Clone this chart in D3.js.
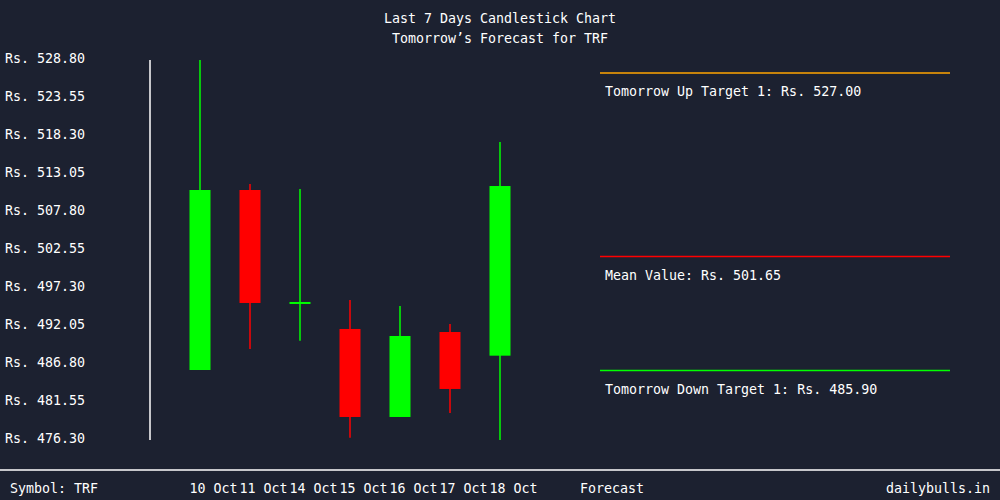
<!DOCTYPE html>
<html><head><meta charset="utf-8">
<script src="https://cdn.jsdelivr.net/npm/d3@7"></script>
<style>
html,body{margin:0;padding:0;background:#1c2130;}
svg{display:block;}
text{font-family:"DejaVu Sans Mono",monospace;fill:#ffffff;}
</style></head>
<body>
<svg id="c" width="1000" height="500"></svg>
<script>
const dates = ["10 Oct","11 Oct","14 Oct","15 Oct","16 Oct","17 Oct","18 Oct"];
const opens  = [485.97, 510.84, 495.30, 491.64, 479.48, 491.22, 487.95];
const closes = [510.84, 495.23, 495.37, 479.48, 490.67, 483.35, 511.39];
const highs  = [528.80, 511.67, 510.98, 495.64, 494.81, 492.33, 517.47];
const lows   = [485.97, 488.87, 490.00, 476.60, 479.48, 480.03, 476.30];
const yTicks = [528.80, 523.55, 518.30, 513.05, 507.80, 502.55, 497.30, 492.05, 486.80, 481.55, 476.30];
const targetLabels = ["Tomorrow Up Target 1", "Mean Value", "Tomorrow Down Target 1"];
const targetValues = [527.00, 501.65, 485.90];
const targetColors = ["#ffa500", "#ff0000", "#00ff00"];

const FS = 13.3;
const svg = d3.select("#c");
const W = 1000, H = 500;
svg.append("rect").attr("width",W).attr("height",H).attr("fill","#1c2130");

const y = d3.scaleLinear().domain([476.30, 528.80]).range([440, 60]);
const x = d3.scaleBand().domain(dates).range([175, 525]).paddingInner(0.58).paddingOuter(0.29);

// title
svg.append("text").attr("x",500).attr("y",23).attr("text-anchor","middle").attr("font-size",FS).text("Last 7 Days Candlestick Chart");
svg.append("text").attr("x",500).attr("y",43).attr("text-anchor","middle").attr("font-size",FS).text("Tomorrow\u2019s Forecast for TRF");

// y axis
const yAxis = d3.axisLeft(y).tickValues(yTicks).tickSize(0).tickPadding(0)
  .tickFormat(d => "Rs. " + d.toFixed(2));
const ga = svg.append("g").attr("transform","translate(150,0)").call(yAxis);
ga.select(".domain").remove();
ga.selectAll("text").attr("x",-145).attr("text-anchor","start").attr("dy","0.2em")
  .attr("font-size",FS).attr("fill","#fff").style("font-family","DejaVu Sans Mono, monospace");
svg.append("line").attr("x1",150).attr("x2",150).attr("y1",y(528.80)).attr("y2",y(476.30))
  .attr("stroke","#fff").attr("stroke-width",1.5);

// candles
const data = dates.map((d,i)=>({d, o:opens[i], c:closes[i], h:highs[i], l:lows[i]}));
const g = svg.append("g");
data.forEach(p=>{
  const col = p.c >= p.o ? "#00ff00" : "#ff0000";
  const cx = x(p.d) + x.bandwidth()/2;
  g.append("line").attr("x1",cx).attr("x2",cx).attr("y1",y(p.h)).attr("y2",y(p.l))
    .attr("stroke",col).attr("stroke-width",1.5);
  const top = y(Math.max(p.o,p.c)), bot = y(Math.min(p.o,p.c));
  g.append("rect").attr("x",x(p.d)).attr("width",x.bandwidth())
    .attr("y",top).attr("height",Math.max(bot-top,2)).attr("fill",col);
});

// targets
targetValues.forEach((v,i)=>{
  svg.append("line").attr("x1",600).attr("x2",950).attr("y1",y(v)).attr("y2",y(v))
    .attr("stroke",targetColors[i]).attr("stroke-width",1.5);
  svg.append("text").attr("x",605).attr("y",y(v)+23).attr("font-size",FS)
    .text(targetLabels[i] + ": Rs. " + v.toFixed(2));
});

// bottom
svg.append("line").attr("x1",0).attr("x2",W).attr("y1",470).attr("y2",470).attr("stroke","#fff").attr("stroke-width",1.5);
svg.append("text").attr("x",10).attr("y",493).attr("font-size",FS).text("Symbol: TRF");
dates.forEach(d=>{
  svg.append("text").attr("x",x(d)).attr("y",493).attr("font-size",FS).text(d);
});
svg.append("text").attr("x",580).attr("y",493).attr("font-size",FS).text("Forecast");
svg.append("text").attr("x",990).attr("y",493).attr("text-anchor","end").attr("font-size",FS).text("dailybulls.in");
</script>
</body></html>
